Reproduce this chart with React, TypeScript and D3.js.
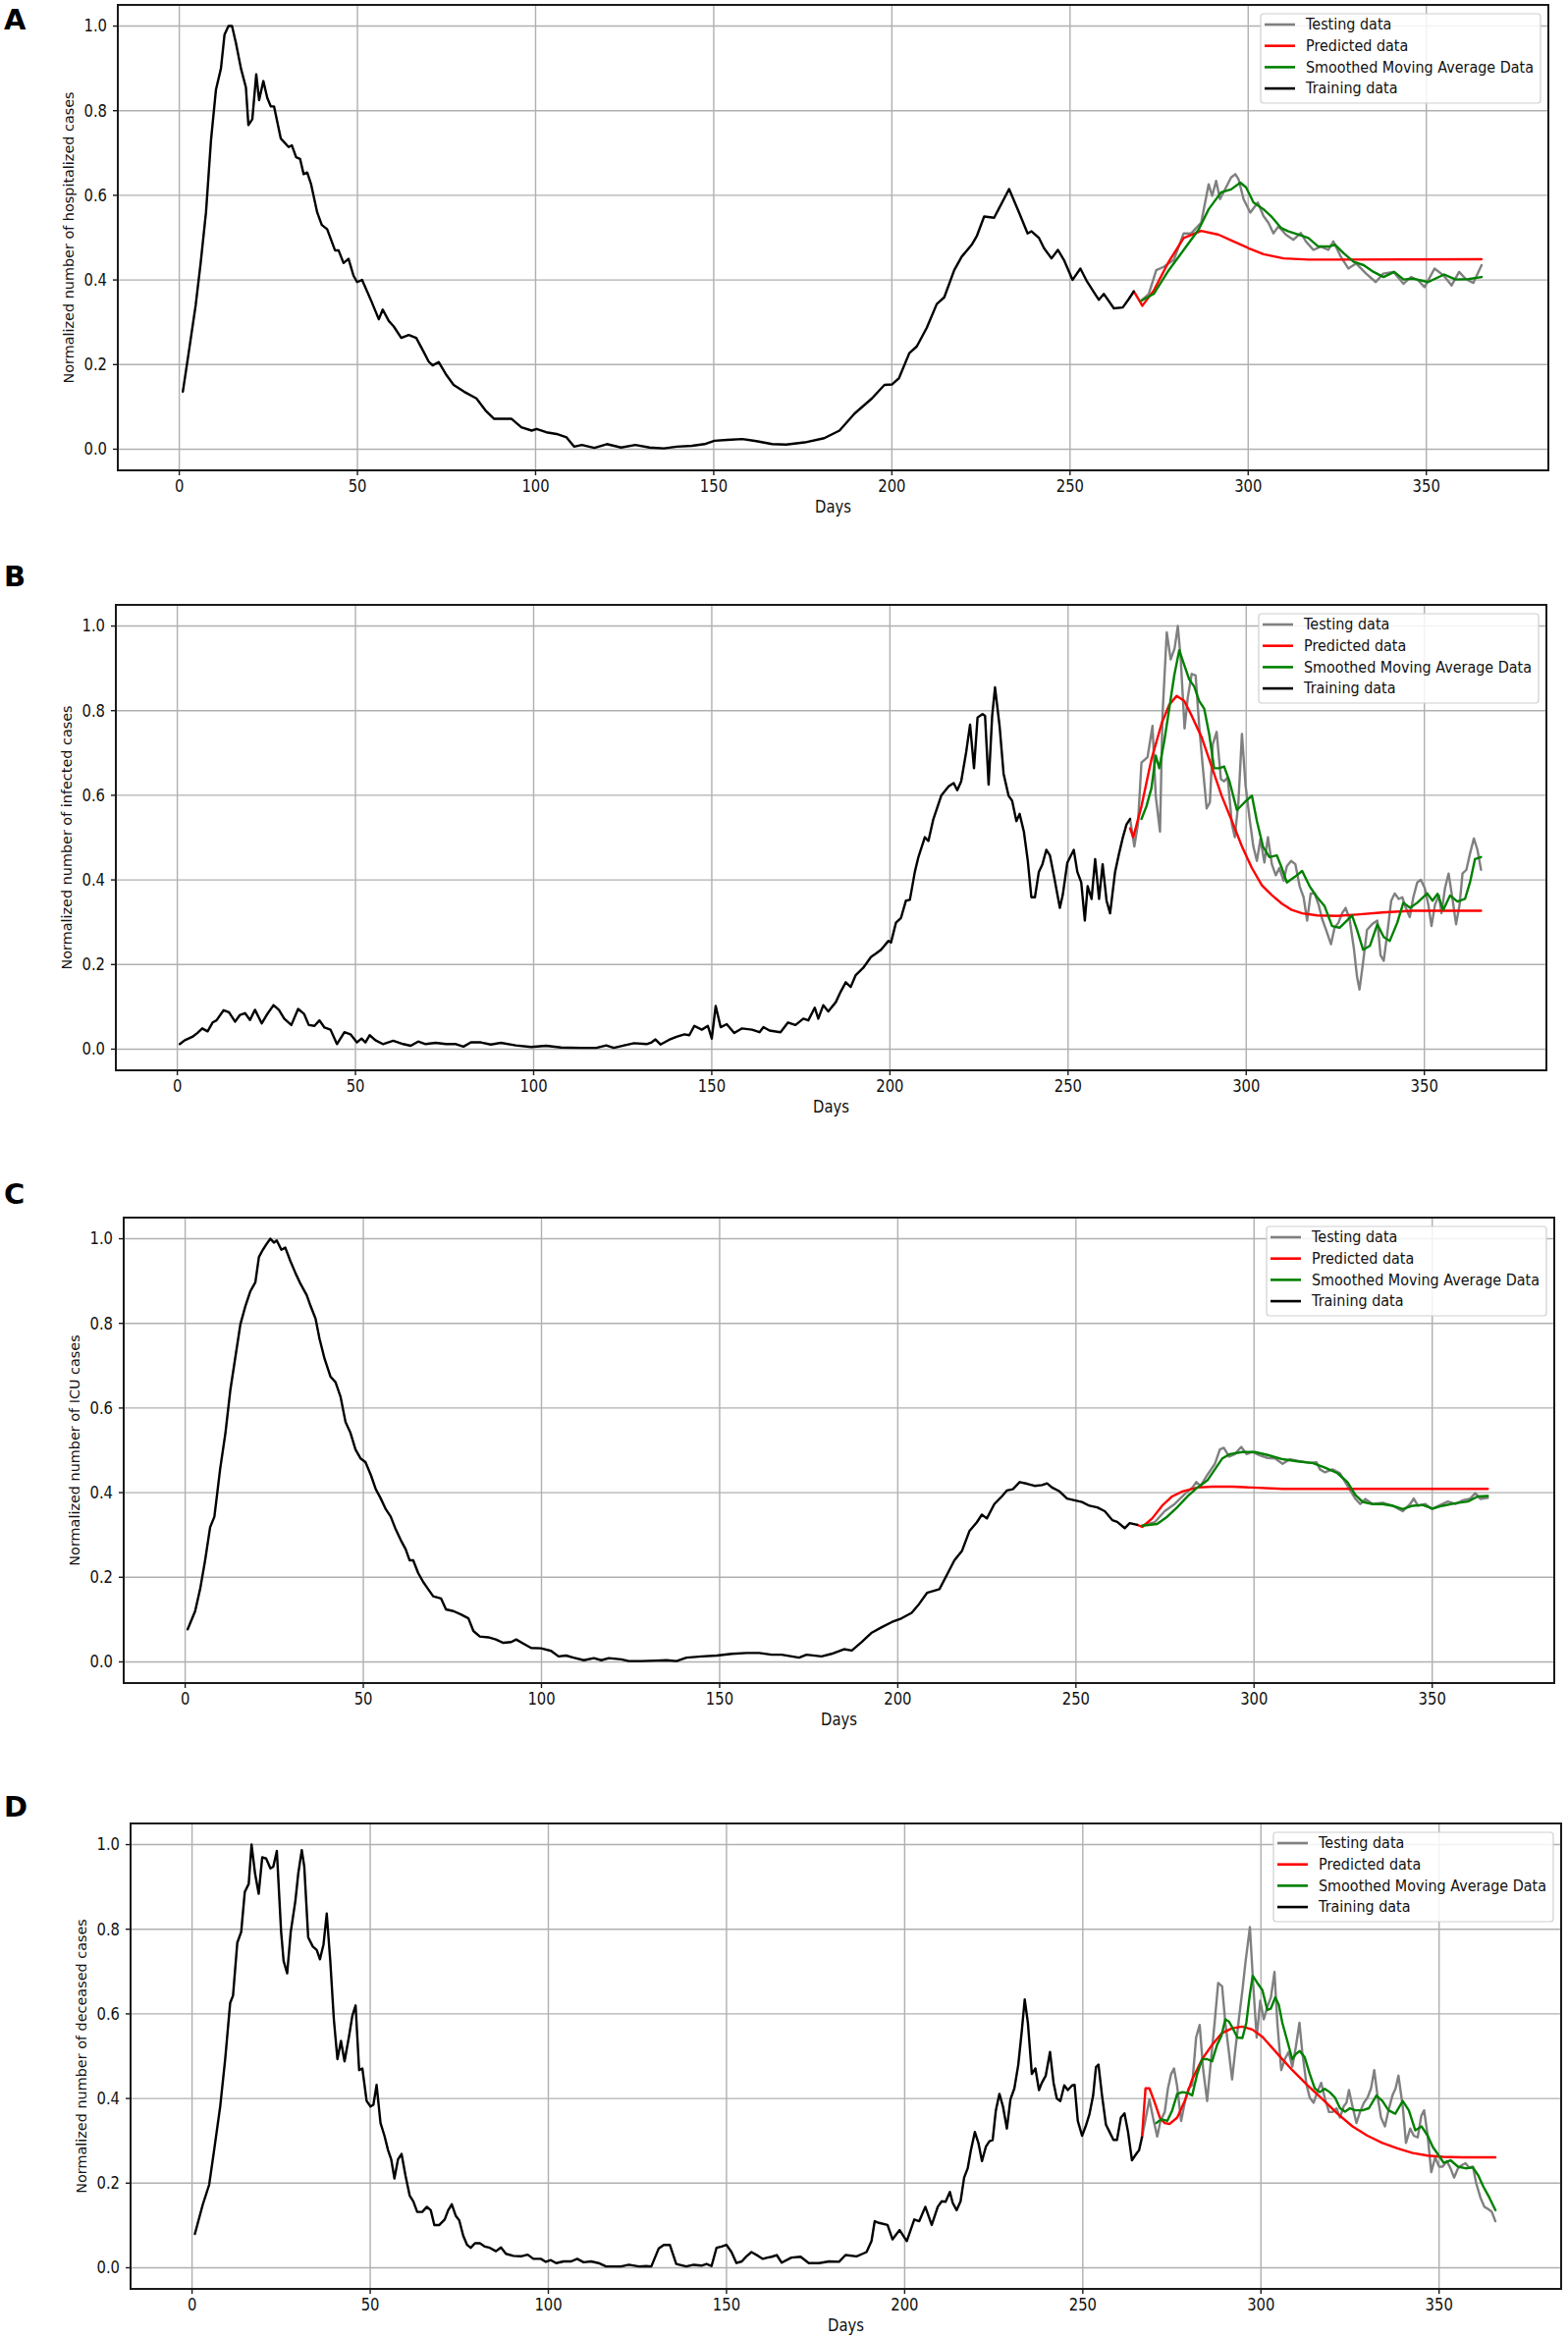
import React, { useEffect } from 'react';
import * as d3 from 'd3';

type Pt = [number, number];

// ---- tick values / labels ----
const dayTicks = [0, 50, 100, 150, 200, 250, 300, 350];
const valueTicks = [0, 0.2, 0.4, 0.6, 0.8, 1.0];
const legendLabels = ['Testing data', 'Predicted data', 'Smoothed Moving Average Data', 'Training data'];
const seriesColors = ['#808080', '#ff0000', '#008000', '#000000'];

// ---- A: hospitalized ----
const hospTrain: Pt[] = [
  [1, 0.136], [2.5, 0.22], [4.6, 0.34], [6, 0.44], [7.5, 0.56], [8.9, 0.73], [10.3, 0.85], [11.7, 0.9],
  [12.7, 0.98], [13.8, 1.0], [14.8, 1.0], [15.9, 0.96], [17.3, 0.9], [18.7, 0.855], [19.4, 0.766], [20.5, 0.78],
  [21.6, 0.886], [22.4, 0.825], [23.6, 0.87], [24.7, 0.83], [25.7, 0.81], [26.6, 0.81], [28.5, 0.734], [30.7, 0.714],
  [31.6, 0.718], [32.8, 0.69], [33.9, 0.686], [34.9, 0.65], [35.9, 0.654], [37, 0.626], [38.7, 0.56], [40, 0.53],
  [41.5, 0.52], [43.7, 0.47], [44.7, 0.47], [46.1, 0.44], [47.5, 0.45], [48.9, 0.41], [49.9, 0.395], [51.3, 0.4],
  [53.9, 0.35], [56, 0.307], [57.1, 0.33], [58.8, 0.303], [60.2, 0.29], [62.3, 0.263], [64.4, 0.27], [66.5, 0.263],
  [68.6, 0.23], [70, 0.207], [71.1, 0.198], [72.8, 0.206], [75, 0.175], [77, 0.152], [79.9, 0.136], [83.4, 0.12],
  [85.9, 0.092], [88.3, 0.072], [90.4, 0.072], [93.2, 0.072], [96, 0.052], [98.9, 0.044], [100.3, 0.048], [103, 0.04],
  [105.9, 0.036], [108.7, 0.028], [110.8, 0.006], [113, 0.01], [116.5, 0.003], [120, 0.012], [124, 0.004], [128, 0.01],
  [132, 0.004], [136, 0.002], [139.6, 0.006], [143.9, 0.008], [147.4, 0.012], [150.2, 0.02], [153.7, 0.022], [158, 0.024],
  [162, 0.019], [166.4, 0.012], [170.3, 0.011], [175.5, 0.016], [181, 0.026], [185.3, 0.044], [189.5, 0.084], [194.4, 0.12],
  [197.9, 0.152], [200, 0.153], [202, 0.168], [204.9, 0.227], [207, 0.243], [209.8, 0.287], [212.6, 0.343], [214.7, 0.359],
  [217.5, 0.423], [219.6, 0.455], [222.4, 0.483], [223.8, 0.503], [225.9, 0.55], [228.7, 0.547], [232.9, 0.615], [235.7, 0.559],
  [238.1, 0.51], [239.2, 0.515], [241.3, 0.499], [242.7, 0.475], [244.8, 0.451], [246.6, 0.471], [248.3, 0.447], [250.7, 0.4],
  [252.9, 0.427], [254.6, 0.399], [256.7, 0.371], [258.1, 0.353], [259.5, 0.367], [262.3, 0.333], [264.8, 0.335], [266.5, 0.355],
  [267.9, 0.373],
];
const hospTest: Pt[] = [
  [270, 0.351], [272.1, 0.367], [274.2, 0.423], [276.3, 0.431], [279.1, 0.447], [281.9, 0.51], [284, 0.51], [286.8, 0.535],
  [288.9, 0.626], [289.9, 0.599], [291, 0.634], [292.1, 0.591], [293.8, 0.619], [295.2, 0.642], [296.4, 0.65], [297.3, 0.638],
  [298.7, 0.591], [300.6, 0.559], [302.7, 0.583], [304.3, 0.551], [305.7, 0.535], [307.1, 0.51], [308.5, 0.527], [310.6, 0.507],
  [312.7, 0.495], [314.8, 0.511], [316.2, 0.491], [318.3, 0.471], [320.4, 0.479], [322.5, 0.471], [323.9, 0.491], [326, 0.455],
  [328.1, 0.427], [330.3, 0.439], [333.1, 0.415], [335.8, 0.395], [337.9, 0.415], [340.8, 0.419], [343.6, 0.391], [345.7, 0.407],
  [347.7, 0.399], [349.5, 0.383], [352.3, 0.427], [354.8, 0.411], [357.1, 0.387], [359.2, 0.419], [361.1, 0.402], [363.2, 0.393],
  [365.5, 0.435],
];
const hospPred: Pt[] = [
  [267.9, 0.373], [270.3, 0.339], [273.5, 0.375], [277.7, 0.443], [281.9, 0.499], [286.8, 0.516], [291.7, 0.507], [295.9, 0.491],
  [300.1, 0.475], [304.3, 0.461], [309.9, 0.451], [316.9, 0.448], [323.9, 0.448], [365.5, 0.449],
];
const hospSmooth: Pt[] = [
  [270, 0.351], [273.5, 0.367], [277.7, 0.423], [281.9, 0.471], [286.1, 0.519], [288.9, 0.567], [292.4, 0.607], [295.2, 0.614],
  [297.8, 0.63], [299.4, 0.619], [301.5, 0.583], [304.3, 0.567], [306.4, 0.551], [309.2, 0.523], [311.3, 0.515], [314.1, 0.507],
  [316.9, 0.499], [319.7, 0.479], [322.5, 0.479], [324.4, 0.483], [326.8, 0.463], [329.6, 0.443], [332.4, 0.435], [335.2, 0.419],
  [338, 0.407], [341, 0.419], [343.6, 0.401], [346.4, 0.403], [350.5, 0.395], [355, 0.413], [358.2, 0.401], [361.8, 0.402],
  [365.5, 0.407],
];

// ---- B: infected ----
const infTrain: Pt[] = [
  [0.7, 0.012], [2.1, 0.021], [4.2, 0.029], [5.6, 0.038], [7, 0.049], [8.5, 0.042], [9.9, 0.063], [11, 0.068],
  [13, 0.092], [14.5, 0.087], [16.2, 0.065], [17.6, 0.081], [19, 0.085], [20.4, 0.069], [21.8, 0.093], [23.7, 0.061],
  [25.1, 0.081], [27, 0.104], [28.5, 0.093], [30, 0.072], [32, 0.057], [33.9, 0.095], [35.6, 0.083], [36.9, 0.057],
  [38.5, 0.055], [39.9, 0.068], [41.3, 0.051], [43, 0.046], [44.8, 0.012], [46.9, 0.04], [48.6, 0.035], [50.4, 0.016],
  [51.7, 0.025], [52.8, 0.016], [54, 0.033], [55.6, 0.021], [57.7, 0.012], [60.6, 0.02], [63.4, 0.012], [65.5, 0.008],
  [67.6, 0.018], [69.7, 0.012], [72.5, 0.015], [75.4, 0.012], [78.2, 0.012], [80.3, 0.006], [82.4, 0.016], [85.2, 0.016],
  [88, 0.011], [90.8, 0.015], [95, 0.009], [99.3, 0.005], [103.5, 0.008], [107.7, 0.004], [113.4, 0.003], [117.6, 0.003],
  [120.4, 0.009], [122.5, 0.003], [125.4, 0.009], [128.2, 0.014], [131.7, 0.012], [133.1, 0.016], [134.2, 0.023], [135.6, 0.011],
  [138, 0.022], [140.1, 0.029], [142.3, 0.035], [143.7, 0.033], [145.1, 0.055], [147.2, 0.046], [148.9, 0.055], [150, 0.025],
  [151.1, 0.102], [152.5, 0.052], [154.2, 0.059], [156.3, 0.038], [158.5, 0.049], [161.3, 0.046], [163.4, 0.04], [164.5, 0.052],
  [166.2, 0.044], [169.3, 0.04], [171.4, 0.063], [173.5, 0.057], [175.7, 0.072], [177.1, 0.068], [178.9, 0.098], [179.9, 0.072],
  [181.3, 0.104], [182.7, 0.089], [184.8, 0.111], [186.2, 0.136], [187.6, 0.158], [189, 0.147], [190.4, 0.175], [192.5, 0.192],
  [194.7, 0.218], [196.1, 0.226], [197.5, 0.235], [199.6, 0.256], [200.3, 0.252], [201.7, 0.299], [203.1, 0.31], [204.5, 0.351],
  [205.6, 0.353], [207, 0.419], [208, 0.454], [209.8, 0.501], [210.8, 0.492], [212.2, 0.544], [213.2, 0.569], [214.4, 0.599],
  [216.5, 0.621], [217.9, 0.629], [218.9, 0.612], [220, 0.633], [221.4, 0.702], [222.5, 0.767], [223.6, 0.664], [224.6, 0.784],
  [226, 0.792], [226.7, 0.788], [227.7, 0.625], [228.7, 0.788], [229.5, 0.855], [230.8, 0.762], [231.9, 0.651], [233.3, 0.599],
  [234.3, 0.587], [235.5, 0.539], [236.4, 0.556], [237.6, 0.514], [238.7, 0.445], [239.7, 0.359], [240.7, 0.359], [241.8, 0.419],
  [242.8, 0.437], [243.9, 0.471], [244.9, 0.458], [246, 0.411], [247.7, 0.334], [248.5, 0.364], [249.8, 0.441], [251.6, 0.471],
  [252.6, 0.419], [253.7, 0.394], [254.7, 0.304], [255.5, 0.385], [256.6, 0.355], [257.6, 0.449], [258.7, 0.355], [259.7, 0.437],
  [260.8, 0.351], [261.8, 0.321], [263.2, 0.419], [264.3, 0.462], [265.4, 0.501], [266.4, 0.531], [267.4, 0.544],
];
const infTest: Pt[] = [
  [267.4, 0.544], [268.6, 0.479], [269.6, 0.531], [270.6, 0.677], [272.3, 0.69], [273.7, 0.764], [274.6, 0.599], [275.8, 0.514],
  [276.5, 0.788], [277.7, 0.985], [278.8, 0.921], [279.9, 0.947], [280.8, 1.0], [281.6, 0.925], [282.7, 0.758], [283.6, 0.831],
  [284.7, 0.887], [285.8, 0.883], [286.8, 0.764], [287.8, 0.668], [288.9, 0.569], [289.8, 0.583], [290.6, 0.72], [291.7, 0.75],
  [292.9, 0.638], [293.8, 0.633], [294.8, 0.642], [296, 0.531], [296.8, 0.501], [297.8, 0.583], [298.8, 0.745], [299.8, 0.625],
  [300.9, 0.548], [302, 0.479], [303, 0.445], [304, 0.497], [305.1, 0.441], [306.1, 0.501], [307.2, 0.437], [308.3, 0.411],
  [309.3, 0.428], [310.5, 0.398], [311.4, 0.432], [312.6, 0.445], [313.8, 0.437], [315, 0.385], [316.1, 0.359], [317.1, 0.304],
  [318.1, 0.368], [319.2, 0.368], [320.3, 0.342], [321.3, 0.308], [322.4, 0.282], [323.8, 0.248], [324.8, 0.287], [325.9, 0.299],
  [326.9, 0.321], [327.9, 0.334], [329, 0.308], [330.2, 0.239], [331.1, 0.171], [331.8, 0.141], [332.8, 0.205], [333.9, 0.282],
  [335.3, 0.295], [336.8, 0.304], [337.7, 0.222], [338.6, 0.209], [339.6, 0.274], [340.7, 0.351], [341.7, 0.368], [342.8, 0.355],
  [343.8, 0.359], [344.8, 0.334], [345.9, 0.312], [346.9, 0.359], [348, 0.394], [349, 0.4], [350.1, 0.381], [351.1, 0.342],
  [352, 0.291], [353, 0.342], [354.1, 0.363], [354.8, 0.321], [355.8, 0.381], [356.8, 0.415], [357.9, 0.355], [358.9, 0.295],
  [359.9, 0.342], [360.7, 0.415], [361.8, 0.424], [362.8, 0.462], [363.9, 0.498], [364.9, 0.471], [365.9, 0.424],
];
const infPred: Pt[] = [
  [267.4, 0.522], [268.3, 0.501], [270.6, 0.574], [273.4, 0.685], [276.3, 0.771], [278.4, 0.814], [280.5, 0.835], [282.6, 0.823],
  [284.7, 0.788], [287.5, 0.737], [290.3, 0.668], [293.1, 0.599], [296, 0.539], [298.8, 0.479], [301.6, 0.428], [304.4, 0.387],
  [307.2, 0.364], [310, 0.344], [312.8, 0.329], [315.7, 0.321], [319.9, 0.316], [325.5, 0.315], [331.1, 0.318], [338.2, 0.323],
  [346.6, 0.327], [365.9, 0.327],
];
const infSmooth: Pt[] = [
  [270.6, 0.544], [272, 0.574], [273.4, 0.617], [274.6, 0.694], [275.6, 0.664], [277, 0.728], [278.4, 0.805], [279.8, 0.883],
  [281.2, 0.943], [282.6, 0.908], [284, 0.874], [285.4, 0.857], [286.8, 0.823], [288.2, 0.805], [289.6, 0.745], [291, 0.664],
  [292.4, 0.664], [293.8, 0.668], [295.3, 0.633], [297.4, 0.565], [299.5, 0.583], [301.6, 0.599], [303, 0.539], [304.7, 0.479],
  [306.5, 0.454], [308.6, 0.458], [310, 0.428], [311.4, 0.394], [313.6, 0.407], [315.7, 0.421], [317.8, 0.385], [319.9, 0.359],
  [322, 0.338], [324.1, 0.291], [326.2, 0.287], [328.3, 0.304], [329.7, 0.316], [331.1, 0.282], [332.8, 0.235], [334.7, 0.244],
  [336.8, 0.295], [338.6, 0.265], [340.3, 0.256], [342.4, 0.299], [344.1, 0.346], [346, 0.334], [348, 0.346], [350.8, 0.368],
  [352.3, 0.351], [353.7, 0.367], [355.3, 0.329], [357.2, 0.363], [359.3, 0.349], [361.4, 0.355], [362.8, 0.394], [364.2, 0.449],
  [365.9, 0.454],
];

// ---- C: ICU ----
const icuTrain: Pt[] = [
  [0.7, 0.077], [2.8, 0.12], [4.2, 0.172], [5.6, 0.24], [7, 0.318], [8.2, 0.343], [9.8, 0.455], [11.3, 0.541],
  [12.7, 0.644], [14.1, 0.721], [15.5, 0.798], [16.9, 0.841], [18.3, 0.876], [19.7, 0.897], [20.7, 0.957], [21.8, 0.974],
  [22.8, 0.987], [23.9, 1.0], [24.9, 0.991], [25.7, 0.996], [27, 0.974], [28.1, 0.979], [29.5, 0.948], [31, 0.918],
  [32.4, 0.893], [34.1, 0.867], [35.2, 0.841], [36.6, 0.811], [37.7, 0.764], [39.1, 0.717], [40.8, 0.674], [42.2, 0.661],
  [43.6, 0.627], [45, 0.567], [46.4, 0.541], [47.8, 0.502], [49.2, 0.481], [50.6, 0.472], [52.1, 0.442], [53.5, 0.408],
  [54.9, 0.386], [56.3, 0.361], [57.7, 0.343], [59.1, 0.313], [60.5, 0.288], [61.9, 0.266], [63, 0.24], [64, 0.24],
  [65.4, 0.21], [66.8, 0.189], [68.2, 0.172], [69.6, 0.155], [71.8, 0.15], [73.2, 0.124], [75.3, 0.12], [77.4, 0.112],
  [79.5, 0.103], [80.9, 0.073], [82.7, 0.06], [85.1, 0.058], [87.2, 0.053], [89.3, 0.045], [91.5, 0.047], [92.9, 0.053],
  [95, 0.043], [97.1, 0.033], [99.9, 0.032], [102.7, 0.026], [104.8, 0.013], [106.9, 0.015], [109, 0.01], [111.9, 0.004],
  [114.7, 0.009], [116.8, 0.004], [118.9, 0.009], [122.4, 0.006], [124.5, 0.002], [128, 0.002], [132.3, 0.003], [135.1, 0.004],
  [137.9, 0.002], [140.7, 0.01], [145, 0.013], [149.2, 0.015], [153.4, 0.019], [157.6, 0.021], [161.1, 0.021], [164.6, 0.017],
  [167.4, 0.017], [172.3, 0.01], [174.4, 0.017], [178.6, 0.013], [181.4, 0.019], [184.9, 0.03], [187.1, 0.027], [189.9, 0.047],
  [192.7, 0.069], [195.5, 0.082], [198.3, 0.094], [201.1, 0.103], [203.9, 0.116], [206, 0.137], [208.2, 0.163], [211.7, 0.172],
  [213.8, 0.206], [215.9, 0.24], [218, 0.262], [220.1, 0.309], [222.2, 0.33], [223.6, 0.348], [225, 0.339], [227.1, 0.373],
  [229.2, 0.391], [230.6, 0.405], [232.3, 0.408], [234.2, 0.425], [236.3, 0.421], [238.4, 0.416], [240.5, 0.418], [241.9, 0.422],
  [243.3, 0.412], [245.4, 0.403], [247.5, 0.386], [249.6, 0.382], [251.7, 0.378], [253.8, 0.369], [256, 0.365], [258.1, 0.356],
  [260.2, 0.335], [261.6, 0.331], [263.7, 0.316], [265.1, 0.328], [267.2, 0.324],
];
const icuTest: Pt[] = [
  [268.6, 0.322], [272.1, 0.33], [274.9, 0.356], [277.7, 0.373], [280.6, 0.397], [282.7, 0.412], [283.8, 0.425], [285, 0.416],
  [286.9, 0.442], [289, 0.468], [290.4, 0.502], [291.5, 0.506], [293, 0.485], [294.6, 0.491], [296.4, 0.508], [297.9, 0.491],
  [299.5, 0.496], [301.6, 0.488], [303.8, 0.482], [305.9, 0.481], [308, 0.468], [310.1, 0.479], [312.9, 0.474], [315.7, 0.47],
  [317.5, 0.472], [318.5, 0.455], [319.9, 0.448], [322, 0.455], [324.1, 0.446], [326.2, 0.416], [328.4, 0.386], [329.8, 0.373],
  [331.2, 0.385], [333.3, 0.373], [336.1, 0.376], [338.9, 0.369], [341.7, 0.356], [343.8, 0.373], [344.8, 0.386], [346, 0.369],
  [348.1, 0.373], [349.9, 0.361], [352.3, 0.371], [354.4, 0.379], [356.5, 0.373], [358.6, 0.382], [360.7, 0.386], [362.1, 0.399],
  [363.5, 0.385], [365.6, 0.388],
];
const icuPred: Pt[] = [
  [267.2, 0.324], [268.6, 0.319], [271.4, 0.339], [274.2, 0.369], [277, 0.391], [279.9, 0.403], [284.1, 0.412], [288.3, 0.414],
  [293.9, 0.414], [299.5, 0.412], [308, 0.409], [322, 0.409], [365.6, 0.409],
];
const icuSmooth: Pt[] = [
  [268.6, 0.322], [272.8, 0.326], [275.6, 0.343], [278.4, 0.365], [281.3, 0.391], [284.1, 0.412], [286.9, 0.429], [289, 0.455],
  [291.1, 0.481], [293.2, 0.491], [296.7, 0.496], [300.2, 0.496], [303.8, 0.489], [308, 0.479], [312.2, 0.474], [316.4, 0.47],
  [319.9, 0.459], [323.4, 0.446], [326.2, 0.425], [328.4, 0.395], [330.5, 0.378], [333.3, 0.373], [336.1, 0.373], [338.9, 0.369],
  [341.7, 0.361], [344.5, 0.369], [347.3, 0.371], [350.1, 0.362], [352.9, 0.369], [356.5, 0.375], [360, 0.379], [362.8, 0.391],
  [365.6, 0.392],
];

// ---- D: deceased ----
const decTrain: Pt[] = [
  [0.8, 0.08], [3, 0.149], [4.8, 0.196], [6.2, 0.278], [7.9, 0.381], [9.3, 0.493], [10.7, 0.626], [11.5, 0.643],
  [12.7, 0.768], [13.8, 0.794], [14.8, 0.888], [15.9, 0.907], [16.7, 1.0], [17.7, 0.931], [18.7, 0.884], [19.7, 0.97],
  [20.8, 0.967], [22, 0.944], [22.8, 0.948], [23.8, 0.985], [25, 0.794], [25.7, 0.725], [26.7, 0.696], [27.7, 0.794],
  [29, 0.867], [29.8, 0.931], [30.8, 0.987], [31.5, 0.948], [32.6, 0.781], [33.9, 0.759], [35, 0.751], [35.9, 0.729],
  [36.9, 0.764], [37.8, 0.837], [38.8, 0.725], [39.8, 0.587], [40.8, 0.493], [41.8, 0.536], [42.8, 0.488], [44, 0.544],
  [45, 0.596], [45.9, 0.62], [46.9, 0.467], [47.8, 0.471], [49, 0.394], [50.1, 0.381], [50.9, 0.385], [51.8, 0.432],
  [52.9, 0.342], [54, 0.312], [55, 0.278], [55.9, 0.256], [56.8, 0.211], [57.8, 0.256], [58.8, 0.269], [59.9, 0.218],
  [61.1, 0.17], [62.1, 0.157], [63.2, 0.132], [64.6, 0.132], [65.9, 0.144], [67, 0.136], [68, 0.101], [69.4, 0.101],
  [70.9, 0.114], [71.9, 0.136], [72.9, 0.15], [74, 0.123], [75, 0.112], [76.1, 0.076], [77.2, 0.054], [78.2, 0.047],
  [79.4, 0.058], [80.8, 0.058], [82.2, 0.05], [83.6, 0.047], [85.3, 0.039], [86.7, 0.048], [88.1, 0.033], [90.2, 0.028],
  [92.3, 0.027], [94.2, 0.031], [95.8, 0.021], [97.9, 0.021], [99.3, 0.014], [100.7, 0.018], [102.2, 0.011], [104.3, 0.015],
  [106.4, 0.015], [108.1, 0.021], [109.9, 0.013], [112, 0.015], [114.1, 0.011], [116.2, 0.003], [120.4, 0.003], [122.6, 0.007],
  [125.4, 0.003], [127.5, 0.004], [128.9, 0.003], [131, 0.046], [132.4, 0.054], [134.1, 0.054], [135.9, 0.009], [138.7, 0.003],
  [140.8, 0.007], [143, 0.005], [144.4, 0.009], [145.8, 0.004], [147.2, 0.047], [148.6, 0.05], [150, 0.054], [151.4, 0.037],
  [152.8, 0.011], [154.3, 0.015], [155.6, 0.027], [157, 0.037], [158.9, 0.028], [160.2, 0.021], [161.5, 0.024], [162.7, 0.026],
  [164.1, 0.03], [165.5, 0.012], [168.2, 0.024], [170.8, 0.026], [173.1, 0.011], [176, 0.011], [178.8, 0.015], [181.6, 0.014],
  [183.4, 0.03], [186.5, 0.027], [188.2, 0.033], [189.3, 0.037], [190.7, 0.063], [191.6, 0.11], [192.8, 0.106], [195.2, 0.101],
  [196.6, 0.067], [198.6, 0.089], [200.6, 0.063], [202.7, 0.114], [204.1, 0.11], [205.8, 0.144], [207.6, 0.101], [209.3, 0.144],
  [210.4, 0.157], [211.5, 0.156], [212.7, 0.179], [213.5, 0.153], [214.6, 0.136], [215.7, 0.157], [216.7, 0.213], [217.7, 0.235],
  [218.6, 0.278], [219.7, 0.321], [220.7, 0.295], [221.7, 0.252], [222.8, 0.286], [223.8, 0.299], [224.7, 0.302], [225.6, 0.372],
  [226.6, 0.411], [227.6, 0.381], [228.7, 0.329], [229.7, 0.398], [230.8, 0.424], [231.9, 0.48], [232.9, 0.561], [233.7, 0.634],
  [234.6, 0.578], [235.7, 0.458], [236.7, 0.471], [237.7, 0.42], [238.5, 0.437], [239.6, 0.454], [240.8, 0.51], [241.8, 0.437],
  [242.7, 0.4], [243.7, 0.394], [244.8, 0.431], [245.8, 0.42], [247, 0.431], [247.7, 0.432], [248.6, 0.347], [249.8, 0.312],
  [250.8, 0.334], [251.9, 0.364], [252.9, 0.407], [253.7, 0.474], [254.4, 0.48], [255.4, 0.407], [256.5, 0.338], [257.5, 0.321],
  [258.6, 0.302], [259.6, 0.302], [260.7, 0.355], [261.7, 0.365], [262.7, 0.321], [263.8, 0.254], [265, 0.269], [265.8, 0.278],
  [266.6, 0.308],
];
const decTest: Pt[] = [
  [266.6, 0.308], [267.7, 0.355], [268.7, 0.398], [269.7, 0.355], [270.9, 0.31], [271.8, 0.347], [273, 0.368], [273.9, 0.424],
  [274.8, 0.458], [275.6, 0.471], [276.5, 0.428], [277.6, 0.347], [278.6, 0.39], [279.7, 0.424], [280.7, 0.432], [281.8, 0.544],
  [282.8, 0.574], [283.8, 0.467], [284.9, 0.394], [285.9, 0.484], [287, 0.579], [288, 0.673], [289.1, 0.665], [290, 0.579],
  [291, 0.51], [291.9, 0.445], [292.8, 0.514], [293.8, 0.587], [294.8, 0.656], [295.7, 0.725], [296.9, 0.805], [297.8, 0.673],
  [298.8, 0.544], [299.8, 0.631], [300.8, 0.587], [301.8, 0.617], [302.8, 0.639], [303.8, 0.699], [304.6, 0.579], [305.7, 0.467],
  [306.7, 0.493], [307.8, 0.51], [308.8, 0.475], [309.8, 0.522], [310.8, 0.579], [311.6, 0.51], [312.8, 0.432], [313.7, 0.402],
  [314.8, 0.39], [315.8, 0.415], [316.9, 0.437], [317.9, 0.402], [319.1, 0.368], [320.1, 0.368], [321.2, 0.377], [322.2, 0.355],
  [323.2, 0.381], [324, 0.39], [324.7, 0.42], [325.7, 0.381], [326.8, 0.342], [327.8, 0.368], [328.9, 0.39], [329.9, 0.402],
  [330.9, 0.424], [331.8, 0.467], [332.7, 0.407], [333.7, 0.355], [334.8, 0.334], [335.8, 0.372], [336.9, 0.407], [337.8, 0.424],
  [338.6, 0.454], [339.8, 0.381], [340.7, 0.295], [341.9, 0.329], [342.9, 0.312], [344, 0.308], [345, 0.359], [345.8, 0.372],
  [346.8, 0.312], [347.8, 0.226], [348.9, 0.261], [350, 0.239], [351, 0.239], [352.2, 0.252], [353.2, 0.235], [354.2, 0.213],
  [355.3, 0.235], [356.5, 0.243], [357.4, 0.247], [358.4, 0.237], [359.5, 0.239], [360.4, 0.2], [361.6, 0.166], [362.7, 0.144],
  [363.7, 0.139], [364.8, 0.132], [365.8, 0.11],
];
const decPred: Pt[] = [
  [266.6, 0.308], [267.6, 0.424], [268.7, 0.424], [270.2, 0.39], [271.6, 0.355], [273, 0.342], [274.4, 0.34], [276.5, 0.355],
  [278.6, 0.394], [280.7, 0.445], [283.5, 0.493], [286.3, 0.527], [289.1, 0.555], [291.9, 0.566], [294.7, 0.57], [297.6, 0.563],
  [300.4, 0.546], [304.6, 0.506], [308.8, 0.467], [313, 0.432], [317.3, 0.398], [321.5, 0.364], [325.7, 0.334], [329.9, 0.312],
  [334.1, 0.295], [338.3, 0.282], [342.6, 0.271], [346.8, 0.265], [351, 0.262], [356.6, 0.261], [365.8, 0.261],
];
const decSmooth: Pt[] = [
  [270.6, 0.342], [272, 0.351], [273.7, 0.347], [275.1, 0.372], [276.5, 0.411], [277.9, 0.415], [279.6, 0.413], [280.7, 0.407],
  [282.1, 0.458], [283.5, 0.493], [284.9, 0.493], [286.3, 0.488], [287.7, 0.527], [288.9, 0.548], [290, 0.587], [291, 0.582],
  [291.9, 0.569], [293.4, 0.544], [294.8, 0.543], [295.9, 0.579], [296.9, 0.647], [297.7, 0.69], [299, 0.673], [300.4, 0.656],
  [301.8, 0.609], [302.8, 0.613], [304, 0.639], [305, 0.622], [306, 0.579], [307.4, 0.536], [308.8, 0.493], [309.9, 0.506],
  [310.9, 0.512], [312.3, 0.497], [313.7, 0.458], [315.1, 0.424], [316.5, 0.415], [317.9, 0.423], [319.3, 0.415], [320.8, 0.402],
  [322.2, 0.377], [323.6, 0.369], [325, 0.377], [326.4, 0.372], [328.5, 0.372], [330.3, 0.377], [332.4, 0.407], [334.1, 0.394],
  [335.8, 0.372], [337.7, 0.364], [339.8, 0.394], [341.5, 0.372], [343.3, 0.325], [345.1, 0.334], [346.8, 0.312], [348.2, 0.286],
  [349.6, 0.269], [351.3, 0.248], [353.2, 0.254], [355.3, 0.239], [357.4, 0.235], [359.5, 0.237], [361, 0.218], [362.4, 0.192],
  [364.1, 0.166], [365.8, 0.136],
];

// ---- panel layout ----
const FRAME_W = 1457;
const FRAME_H = 474;
const TEXT_SX = 0.87;

interface Panel {
  letter: string;
  yLabel: string;
  left: number;
  top: number;
  letterY: number;
  test: Pt[];
  pred: Pt[];
  smooth: Pt[];
  train: Pt[];
}

const panels: Panel[] = [
  { letter: 'A', yLabel: 'Normalized number of hospitalized cases', left: 120, top: 5, letterY: 30,
    test: hospTest, pred: hospPred, smooth: hospSmooth, train: hospTrain },
  { letter: 'B', yLabel: 'Normalized number of infected cases', left: 118, top: 616, letterY: 597,
    test: infTest, pred: infPred, smooth: infSmooth, train: infTrain },
  { letter: 'C', yLabel: 'Normalized number of ICU cases', left: 126, top: 1240, letterY: 1226,
    test: icuTest, pred: icuPred, smooth: icuSmooth, train: icuTrain },
  { letter: 'D', yLabel: 'Normalized number of deceased cases', left: 133, top: 1857, letterY: 1850,
    test: decTest, pred: decPred, smooth: decSmooth, train: decTrain },
];

const font = "'DejaVu Sans', 'Noto Sans', sans-serif";

const CText: React.FC<{ x: number; y: number; size: number; anchor?: string; children: React.ReactNode }> =
  ({ x, y, size, anchor = 'middle', children }) => (
    <text transform={`translate(${x},${y}) scale(${TEXT_SX},1)`} fontSize={size} textAnchor={anchor}
      dominantBaseline="central" fontFamily={font} fill="#111">{children}</text>
  );

const PanelChart: React.FC<{ p: Panel }> = ({ p }) => {
  const x = d3.scaleLinear().domain([-17.25, 384.25]).range([p.left, p.left + FRAME_W]);
  const y = d3.scaleLinear().domain([-0.05, 1.05]).range([p.top + FRAME_H, p.top]);
  const line = d3.line<Pt>().x(d => x(d[0])).y(d => y(d[1]));
  const bottom = p.top + FRAME_H;
  const right = p.left + FRAME_W;
  const fmt = d3.format('.1f');
  const series = [p.test, p.pred, p.smooth, p.train];
  const lgW = 285, lgH = 91;
  const lgX = right - 8 - lgW, lgY = p.top + 9;

  return (
    <g>
      <text x={4} y={p.letterY} fontSize={29} fontWeight="bold" fontFamily={font} fill="#000">{p.letter}</text>
      {/* grid */}
      {dayTicks.map(t => (
        <line key={'gx' + t} x1={x(t)} x2={x(t)} y1={p.top} y2={bottom} stroke="#b0b0b0" strokeWidth={1.4} />
      ))}
      {valueTicks.map(t => (
        <line key={'gy' + t} x1={p.left} x2={right} y1={y(t)} y2={y(t)} stroke="#b0b0b0" strokeWidth={1.4} />
      ))}
      {/* series */}
      {series.map((s, i) => (
        <path key={'s' + i} d={line(s) || ''} fill="none" stroke={seriesColors[i]} strokeWidth={2.4}
          strokeLinejoin="round" strokeLinecap="round" />
      ))}
      {/* frame */}
      <rect x={p.left} y={p.top} width={FRAME_W} height={FRAME_H} fill="none" stroke="#1a1a1a" strokeWidth={2} />
      {/* ticks */}
      {dayTicks.map(t => (
        <g key={'tx' + t}>
          <line x1={x(t)} x2={x(t)} y1={bottom} y2={bottom + 5} stroke="#1a1a1a" strokeWidth={1.4} />
          <CText x={x(t)} y={bottom + 16} size={17}>{String(t)}</CText>
        </g>
      ))}
      {valueTicks.map(t => (
        <g key={'ty' + t}>
          <line x1={p.left - 5} x2={p.left} y1={y(t)} y2={y(t)} stroke="#1a1a1a" strokeWidth={1.4} />
          <CText x={p.left - 11} y={y(t)} size={17} anchor="end">{fmt(t)}</CText>
        </g>
      ))}
      <CText x={(p.left + right) / 2} y={bottom + 37} size={17}>Days</CText>
      <text transform={`translate(${p.left - 50},${(p.top + bottom) / 2}) rotate(-90)`} fontSize={14.4}
        textAnchor="middle" dominantBaseline="central" fontFamily={font} fill="#111">{p.yLabel}</text>
      {/* legend */}
      <rect x={lgX} y={lgY} width={lgW} height={lgH} rx={3} fill="#fff" fillOpacity={0.85}
        stroke="#d0d0d0" strokeWidth={1.2} />
      {legendLabels.map((lab, i) => {
        const ry = lgY + 11 + i * 21.7;
        return (
          <g key={'lg' + i}>
            <line x1={lgX + 4} x2={lgX + 35} y1={ry} y2={ry} stroke={seriesColors[i]} strokeWidth={2.6} />
            <CText x={lgX + 46} y={ry} size={16.5} anchor="start">{lab}</CText>
          </g>
        );
      })}
    </g>
  );
};

export default function App() {
  useEffect(() => {
    document.body.style.margin = '0';
  }, []);
  return (
    <svg width={1597} height={2381} viewBox="0 0 1597 2381" style={{ display: 'block', background: '#fff' }}>
      <rect x={0} y={0} width={1597} height={2381} fill="#fff" />
      {panels.map(p => <PanelChart key={p.letter} p={p} />)}
    </svg>
  );
}
